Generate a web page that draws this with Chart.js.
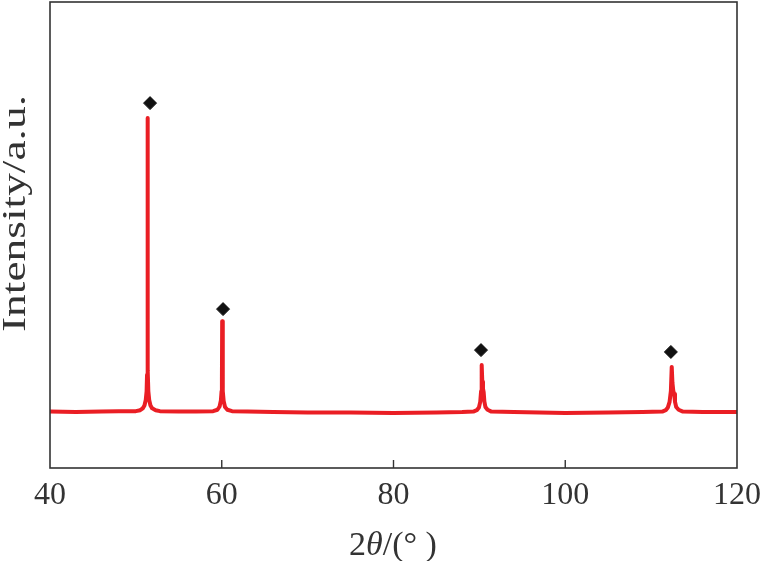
<!DOCTYPE html>
<html>
<head>
<meta charset="utf-8">
<script src="https://cdn.jsdelivr.net/npm/chart.js@4.4.1/dist/chart.umd.min.js"></script>
<style>
  html, body { margin: 0; padding: 0; background: #fff; }
  #wrap { width: 762px; height: 561px; }
</style>
</head>
<body>
<div id="wrap"><canvas id="xrd"></canvas></div>
<script>
// 2θ (deg), with the intensity at each point
const twoTheta = [
  40, 43, 46, 48, 50.0, 50.5, 50.8, 51.0, 51.15, 51.25, 51.3, 51.35, 51.4, 51.45, 51.55, 51.7, 51.9, 52.3, 52.8,
  55, 57, 59.0, 59.5, 59.75, 59.9, 59.98, 60.02, 60.05, 60.1, 60.14, 60.22, 60.38, 60.65, 61.2,
  63, 66, 70, 75, 80, 85, 88, 89.3, 89.7, 89.95, 90.1, 90.2, 90.27, 90.34, 90.42, 90.5, 90.58, 90.7, 90.95, 91.4,
  94, 97, 100, 105, 109, 111.3, 111.7, 111.95, 112.15, 112.3, 112.4, 112.48, 112.58, 112.68, 112.78, 112.92, 113.2, 113.7,
  116, 120
];
const intensity = [
  12.1, 12.0, 12.1, 12.2, 12.2, 12.4, 12.8, 13.4, 14.6, 16.5, 20, 75.1, 21, 16.5, 14.6, 13.4, 12.8, 12.4, 12.2,
  12.1, 12.1, 12.2, 12.5, 13.2, 14.5, 16.5, 19, 31.5, 19, 16.5, 14.4, 13.1, 12.5, 12.2,
  12.1, 12.0, 11.9, 11.9, 11.8, 11.9, 12.0, 12.1, 12.4, 13.0, 14.2, 16.5, 22.1, 18.5, 17.0, 16.3, 14.3, 13.1, 12.5, 12.1,
  12.0, 11.9, 11.8, 11.9, 12.0, 12.1, 12.4, 13.0, 14.2, 16.5, 21.7, 18.3, 16.6, 15.9, 14.2, 13.1, 12.5, 12.1,
  12.0, 12.0
];

// diamond markers above the peaks
const markerX = [51.65, 60.15, 90.19, 112.3];
const markerY = [78.3, 34.1, 25.3, 24.9];

const xTicks = [40, 60, 80, 100, 120];
const innerTicks = [60, 80, 100];

const yTitle = "Intensity/a.u.";

const serif = "'Liberation Serif', 'Times New Roman', serif";
const axisColor = "#333";

// frame, inner ticks and the two axis titles
const framePlugin = {
  id: "frame",
  afterDraw(chart) {
    const { ctx, chartArea: a, scales } = chart;
    ctx.save();
    ctx.strokeStyle = axisColor;
    ctx.lineWidth = 1.6;
    ctx.strokeRect(a.left, a.top, a.right - a.left, a.bottom - a.top);

    ctx.lineWidth = 1.4;
    innerTicks.forEach(v => {
      const px = scales.x.getPixelForValue(v);
      ctx.beginPath();
      ctx.moveTo(px, a.bottom);
      ctx.lineTo(px, a.bottom - 8);
      ctx.stroke();
    });

    // y title, stretched to the length it has in the figure
    ctx.fillStyle = axisColor;
    ctx.font = "33px " + serif;
    ctx.textAlign = "center";
    ctx.textBaseline = "alphabetic";
    const w = ctx.measureText(yTitle).width;
    ctx.translate(25, 213.5);
    ctx.rotate(-Math.PI / 2);
    ctx.scale(237 / w, 1);
    ctx.fillText(yTitle, 0, 0);
    ctx.restore();

    // x title: 2θ/(°) with italic theta
    ctx.save();
    ctx.fillStyle = axisColor;
    ctx.textAlign = "left";
    ctx.textBaseline = "alphabetic";
    const parts = [
      { t: "2", f: "34px " + serif },
      { t: "\u03b8", f: "italic 34px " + serif },
      { t: "/(\u00b0", f: "34px " + serif },
      { t: " )", f: "34px " + serif }
    ];
    let total = 0;
    parts.forEach(p => { ctx.font = p.f; p.w = ctx.measureText(p.t).width; total += p.w; });
    let x = 393 - total / 2;
    parts.forEach(p => { ctx.font = p.f; ctx.fillText(p.t, x, 555); x += p.w; });
    ctx.restore();
  }
};

const ctx = document.getElementById("xrd").getContext("2d");
new Chart(ctx, {
  type: "scatter",
  data: {
    datasets: [
      {
        label: "XRD",
        data: twoTheta.map((t, i) => ({ x: t, y: intensity[i] })),
        showLine: true,
        borderColor: "rgb(234, 30, 36)",
        borderWidth: 4,
        pointRadius: 0,
        tension: 0,
        borderJoinStyle: "round"
      },
      {
        label: "peaks",
        data: markerX.map((t, i) => ({ x: t, y: markerY[i] })),
        pointStyle: "rectRot",
        pointRadius: 6.5,
        backgroundColor: "#111",
        borderColor: "#111",
        borderWidth: 1
      }
    ]
  },
  options: {
    responsive: true,
    maintainAspectRatio: false,
    animation: false,
    devicePixelRatio: 1,
    layout: { autoPadding: false, padding: { top: 2, right: 0, left: 0, bottom: 0 } },
    plugins: {
      legend: { display: false },
      tooltip: { enabled: false }
    },
    scales: {
      x: {
        type: "linear",
        min: 40,
        max: 120,
        afterBuildTicks: scale => { scale.ticks = xTicks.map(v => ({ value: v })); },
        afterFit: scale => {
          scale.height = 93;
          scale.paddingLeft = 0;
          scale.paddingRight = 25;
        },
        grid: { display: false },
        border: { display: false },
        ticks: {
          color: axisColor,
          padding: 0,
          maxRotation: 0,
          font: { family: serif, size: 32 }
        }
      },
      y: {
        min: 0,
        max: 100,
        afterFit: scale => {
          scale.width = 50;
          scale.paddingTop = 0;
          scale.paddingBottom = 0;
        },
        grid: { display: false },
        border: { display: false },
        ticks: { display: false }
      }
    }
  },
  plugins: [framePlugin]
});
</script>
</body>
</html>
